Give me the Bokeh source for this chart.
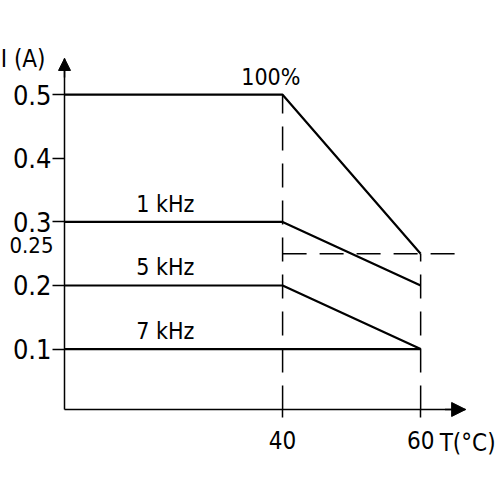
from bokeh.plotting import figure
from bokeh.models import Range1d, FixedTicker, Arrow, NormalHead, ColumnDataSource
from bokeh.core.properties import value
from bokeh.embed import file_html
from bokeh.resources import INLINE

FONT = "DejaVu Sans Condensed, Liberation Sans"

# visible canvas range (data units)
VIEW_X = (-0.87, 70.99)
VIEW_Y = (-0.1318, 0.6481)
# drawn axes (data units)
X_AXIS = (8.406, 66.52)
Y_AXIS = (0.005, 0.557)

# data
temperature = [X_AXIS[0], 40, 60]
curve_names = ["100%", "1 kHz", "5 kHz", "7 kHz"]
current_100 = [0.5, 0.5, 0.25]
current_1k = [0.3, 0.3, 0.2]
current_5k = [0.2, 0.2, 0.1]
current_7k = [0.1, 0.1, 0.1]
label_T = [38.3, 23.0, 23.0, 23.0]

y_ticks = [0.1, 0.2, 0.3, 0.4, 0.5]
x_ticks = [40, 60]
knee_T = 40
max_T = 60
limit_I = 0.25
limit_line_end_T = 65.4

p = figure(width=496, height=496,
           x_range=Range1d(*VIEW_X), y_range=Range1d(*VIEW_Y),
           output_backend="svg", toolbar_location=None,
           min_border_left=0, min_border_top=0, min_border_right=0, min_border_bottom=0)
p.outline_line_color = None
p.grid.visible = False
p.background_fill_color = "white"
p.border_fill_color = "white"

p.xaxis.fixed_location = Y_AXIS[0]
p.xaxis.bounds = X_AXIS
p.yaxis.fixed_location = X_AXIS[0]
p.yaxis.bounds = Y_AXIS

for ax in (p.xaxis[0], p.yaxis[0]):
    ax.axis_line_width = 1.5
    ax.axis_line_color = "black"
    ax.major_tick_line_width = 1.5
    ax.major_tick_line_color = "black"
    ax.minor_tick_line_color = None
    ax.major_tick_in = 0
    ax.major_label_text_font = FONT
    ax.major_label_text_color = "black"

p.xaxis.ticker = FixedTicker(ticks=x_ticks)
p.xaxis.major_tick_out = 8
p.xaxis.major_label_standoff = 14
p.xaxis.major_label_text_font_size = "24px"
p.yaxis.ticker = FixedTicker(ticks=y_ticks)
p.yaxis.major_tick_out = 12
p.yaxis.major_label_standoff = 1
p.yaxis.major_label_text_font_size = "27px"

# dashed guide lines
dash = "24 13"
p.line([knee_T, knee_T], [Y_AXIS[0], current_100[0]], line_color="black", line_width=1.5, line_dash=dash)
p.line([max_T, max_T], [Y_AXIS[0], limit_I], line_color="black", line_width=1.5, line_dash=dash)
p.line([knee_T, limit_line_end_T], [limit_I, limit_I], line_color="black", line_width=1.5, line_dash=dash)

# curves
for cur in (current_100, current_1k, current_5k, current_7k):
    p.line(temperature, cur, line_color="black", line_width=2.2)

src = ColumnDataSource(dict(x=label_T,
                            y=[current_100[0], current_1k[0], current_5k[0], current_7k[0]],
                            t=curve_names))
p.text(x="x", y="y", text="t", source=src, text_font=value(FONT), text_font_size="23px",
       text_align="center", text_baseline="middle", y_offset=-18, text_color="black")

# axis arrows
p.add_layout(Arrow(end=NormalHead(size=12, fill_color="black", line_color="black"),
                   x_start=X_AXIS[0], y_start=Y_AXIS[1] - 0.03, x_end=X_AXIS[0], y_end=Y_AXIS[1],
                   line_width=1.5, line_color="black"))
p.add_layout(Arrow(end=NormalHead(size=14, fill_color="black", line_color="black"),
                   x_start=X_AXIS[1] - 3, y_start=Y_AXIS[0], x_end=X_AXIS[1], y_end=Y_AXIS[0],
                   line_width=1.5, line_color="black"))

# axis titles and the 0.25 marker label
p.text(x=[X_AXIS[0]], y=[Y_AXIS[1]], text=["I (A)"], x_offset=-19, y_offset=1,
       text_align="right", text_baseline="middle", text_font=value(FONT),
       text_font_size="24px", text_color="black")
p.text(x=[max_T], y=[Y_AXIS[0]], text=["T(°C)"], x_offset=19, y_offset=34,
       text_align="left", text_baseline="middle", text_font=value(FONT),
       text_font_size="24px", text_color="black")
p.text(x=[X_AXIS[0]], y=[limit_I], text=["0.25"], x_offset=-11, y_offset=-9,
       text_align="right", text_baseline="middle", text_font=value(FONT),
       text_font_size="22px", text_color="black")

open("out.html", "w").write(file_html(p, INLINE))
